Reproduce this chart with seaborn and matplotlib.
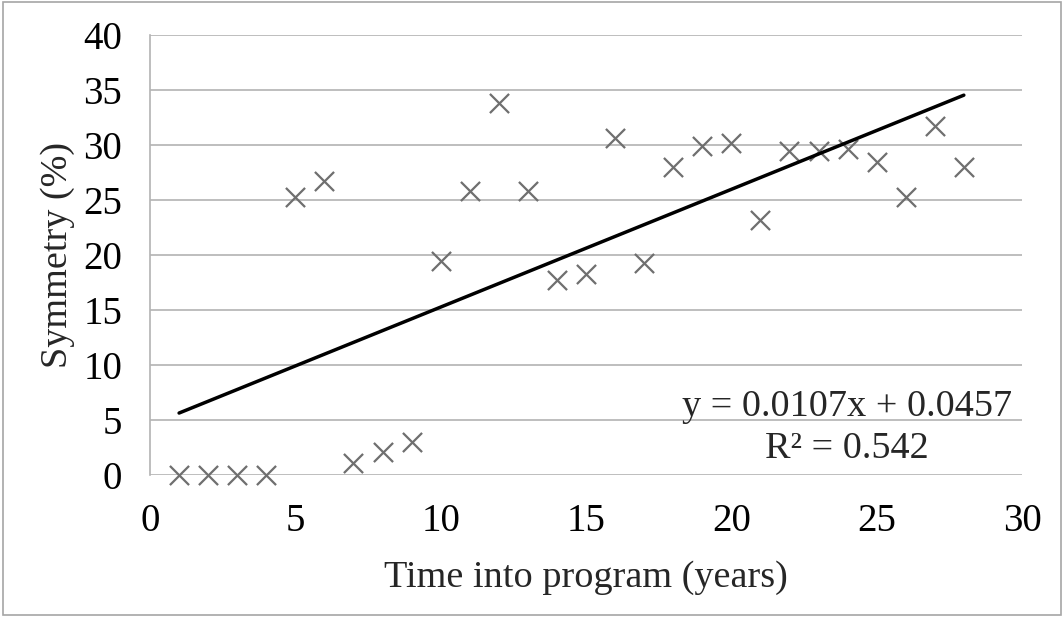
import numpy as np
import pandas as pd
import matplotlib
matplotlib.use('Agg')
import matplotlib.pyplot as plt
from matplotlib.patches import Rectangle
import seaborn as sns

# data
years = [1, 2, 3, 4, 5, 6, 7, 8, 9, 10, 11, 12, 13, 14,
         15, 16, 17, 18, 19, 20, 21, 22, 23, 24, 25, 26, 27, 28]
symmetry = [0.0, 0.0, 0.0, 0.0, 25.3, 26.7, 1.1, 2.1, 3.0, 19.5, 25.8, 33.8, 25.8, 17.7,
            18.3, 30.6, 19.3, 28.0, 29.9, 30.2, 23.2, 29.5, 29.5, 29.6, 28.5, 25.3, 31.7, 28.0]
# trendline from the chart's equation (fraction units -> percent)
slope = 0.0107
intercept = 0.0457
eq_text = "y = 0.0107x + 0.0457\nR² = 0.542"

df = pd.DataFrame({'Time': years, 'Symmetry': symmetry})
trend = pd.DataFrame({'Time': [min(years), max(years)]})
trend['Symmetry'] = (slope * trend['Time'] + intercept) * 100

sns.set_theme(style='white')
plt.rcParams['font.family'] = ['Liberation Serif', 'DejaVu Serif']

fig = plt.figure(figsize=(10.64, 6.17), dpi=100)
ax = fig.add_axes([0.141, 0.230, 0.8195, 0.7133])

ax.yaxis.grid(True, color='#b3b3b3', linewidth=1.2)
ax.set_axisbelow(True)

sns.scatterplot(data=df, x='Time', y='Symmetry', marker='x', color='#6f6f6f',
                s=190, linewidth=1.6, ax=ax, zorder=3, clip_on=False)
sns.lineplot(data=trend, x='Time', y='Symmetry', color='black', linewidth=2.5,
             ax=ax, zorder=4, solid_capstyle='round')

ax.set_xlim(0, 30)
ax.set_ylim(0, 40)
ax.set_xticks(range(0, 31, 5))
ax.set_yticks(range(0, 41, 5))
ax.tick_params(axis='both', length=0, labelsize=28, colors='black')
ax.tick_params(axis='x', pad=20)
ax.tick_params(axis='y', pad=20)

for side in ['top', 'right', 'bottom']:
    ax.spines[side].set_visible(False)
ax.spines['left'].set_color('#b3b3b3')
ax.spines['left'].set_linewidth(1.2)

ax.set_xlabel('Time into program (years)', fontsize=27.5, labelpad=15)
ax.set_ylabel('Symmetry (%)', fontsize=27.5, labelpad=6)

ax.text(29.65, 4.3, eq_text, ha='right', va='center', multialignment='center',
        fontsize=27.5, linespacing=1.25, zorder=5)

fig.patches.append(Rectangle((0.003, 0.004), 0.994, 0.992, transform=fig.transFigure,
                             fill=False, edgecolor='#a6a6a6', linewidth=1.2))

fig.savefig('out.png', dpi=100)
plt.close(fig)
